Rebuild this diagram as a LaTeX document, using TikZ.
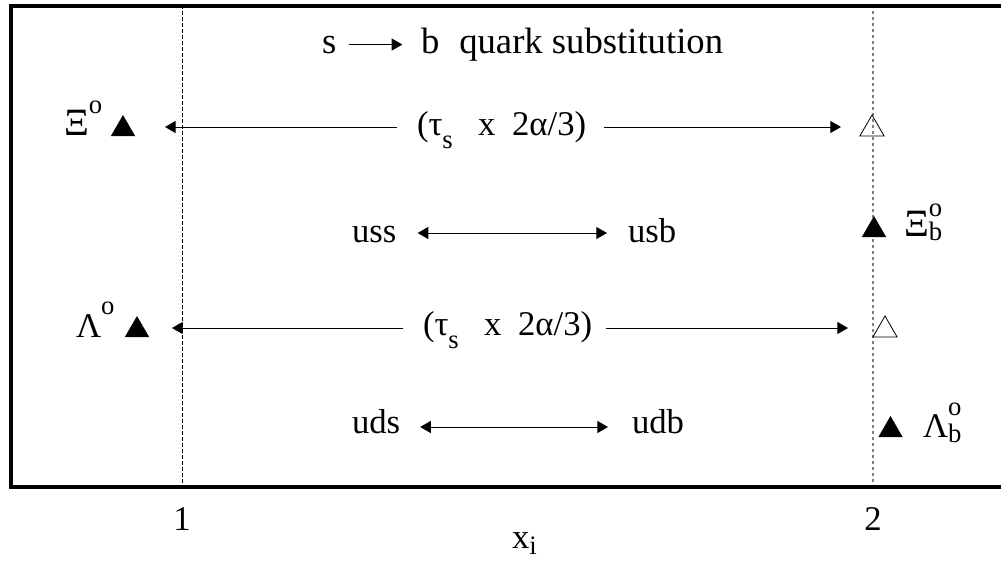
\documentclass[tikz,border=0pt]{standalone}
\usepackage{fontspec}
\setmainfont{Liberation Serif}
\usetikzlibrary{arrows.meta,shapes.geometric}
\newcommand{\mysup}[2]{\raisebox{#1}{\fontsize{20}{20}\selectfont #2}}
\newcommand{\mysub}[2]{\raisebox{-#1}{\fontsize{20}{20}\selectfont #2}}
\newcommand{\supsubs}[4]{\rlap{\raisebox{#1}{\fontsize{20}{20}\selectfont #3}}\raisebox{-#2}{\fontsize{20}{20}\selectfont #4}}
\newcommand{\taulabel}{(τ\mysub{10pt}{s}\hspace{19pt}x\hspace{12.5pt}2α/3)}
\begin{document}
\begin{tikzpicture}[x=0.75pt,y=-0.75pt,
  txt/.style={inner sep=0pt, outer sep=0pt, anchor=base west, font=\fontsize{26}{30}\selectfont},
  ttl/.style={txt, font=\fontsize{27.5}{30}\selectfont},
  ctr/.style={inner sep=0pt, anchor=base, font=\fontsize{26}{30}\selectfont},
  ftri/.style={regular polygon, regular polygon sides=3, fill=black, minimum size=21pt, inner sep=0pt, outer sep=0pt},
  otri/.style={regular polygon, regular polygon sides=3, draw=black, line width=0.6pt, minimum size=21pt, inner sep=0pt, outer sep=0pt},
  arr/.style={-{Triangle[length=8pt,width=9pt]}, line width=0.75pt},
  dbl/.style={{Triangle[length=8pt,width=9pt]}-{Triangle[length=8pt,width=9pt]}, line width=0.75pt},
  guideA/.style={line width=0.6pt, dash pattern=on 3pt off 1.5pt},
  guideB/.style={line width=0.9pt, gray, dash pattern=on 2.25pt off 2.25pt},
  frm/.style={line width=3pt},
]
\useasboundingbox (0,0) rectangle (1001,561);
% guides
\coordinate (g1t) at (182,5); \coordinate (g1b) at (182,487);
\coordinate (g2t) at (873,5); \coordinate (g2b) at (873,487);
\draw[guideA] (g1t) -- (g1b);
\draw[guideB] (g2t) -- (g2b);
% frame
\coordinate (fa) at (1001,5.5); \coordinate (fb) at (11,5.5);
\coordinate (fc) at (11,487); \coordinate (fd) at (1001,487);
\draw[frm] (fa) -- (fb) -- (fc) -- (fd);
% title
\node[ttl] (ts) at (322,53) {s};
\node[ttl] (tb) at (421,53) {b\hspace{15pt}quark substitution};
\draw[arr, shorten <=9.5pt, shorten >=14pt] (ts.east) -- (ts.east -| tb.west);
% row 1
\node[txt] (Xi0) at (64,135) {{\fontsize{29}{30}\selectfont Ξ}\mysup{16.5pt}{o}};
\node[ftri] (T1) at (123,129) {};
\node[txt] (L1) at (417,135) {\taulabel};
\coordinate (a1) at (165,127); \coordinate (b1) at (841,127);
\draw[arr, shorten <=15pt] (L1.west |- a1) -- (a1);
\draw[arr, shorten <=13.5pt] (L1.east |- b1) -- (b1);
\node[otri] (T2) at (872,129) {};
% row 2
\node[txt] (uss) at (352,242) {uss};
\node[txt] (usb) at (628,242) {usb};
\coordinate (r2) at (500,233);
\draw[dbl, shorten <=16pt, shorten >=15.75pt] (uss.east |- r2) -- (usb.west |- r2);
\node[ftri] (T3) at (874,230) {};
\node[txt] (Xib) at (904,236) {{\fontsize{29}{30}\selectfont Ξ}\supsubs{15pt}{3pt}{o}{b}};
% row 3
\node[txt] (Lam0) at (76,337) {Λ\mysup{17pt}{o}};
\node[ftri] (T4) at (137,330) {};
\node[txt] (L3) at (423,335) {\taulabel};
\coordinate (a3) at (172,328); \coordinate (b3) at (848,328);
\draw[arr, shorten <=15pt] (L3.west |- a3) -- (a3);
\draw[arr, shorten <=10pt] (L3.east |- b3) -- (b3);
\node[otri] (T5) at (885,330) {};
% row 4
\node[txt] (uds) at (352,433) {uds};
\node[txt] (udb) at (632,433) {udb};
\coordinate (r4) at (500,427);
\draw[dbl, shorten <=15pt, shorten >=18pt] (uds.east |- r4) -- (udb.west |- r4);
\node[ftri] (T6) at (890.5,430) {};
\node[txt] (Lamb) at (923,437) {Λ\supsubs{16.5pt}{3.75pt}{o}{b}};
% axis
\node[ctr] (one) at (182,530) {1};
\node[ctr] (two) at (873,530) {2};
\node[txt] (xax) at (512,548) {x\mysub{5pt}{i}};
\end{tikzpicture}
\end{document}
